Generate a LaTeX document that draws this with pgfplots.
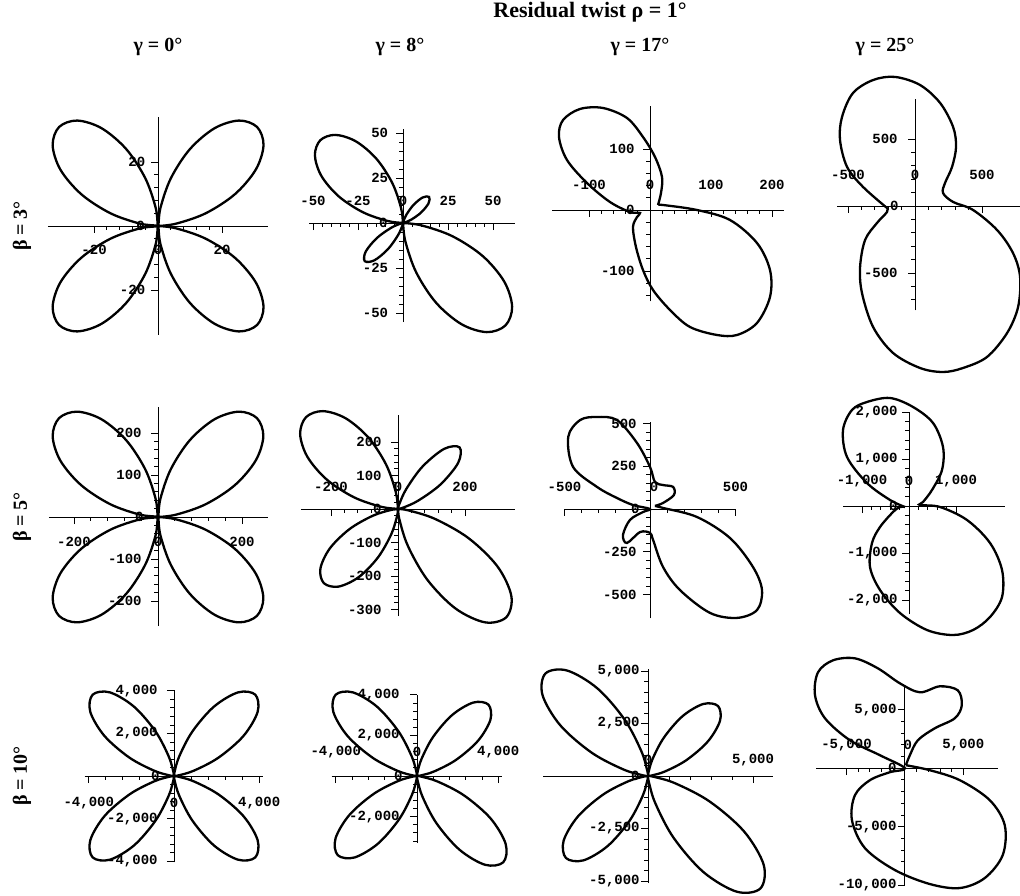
\documentclass[border=0pt]{standalone}
\usepackage{fontspec}
\setmainfont{Liberation Serif}
\setmonofont{Liberation Mono}
\usepackage{pgfplots}
\pgfplotsset{compat=1.18}
\usepgfplotslibrary{polar}

\pgfplotsset{
  panel/.style={
    anchor=south west,
    axis lines=middle,
    axis line style={-, line width=0.4pt, black},
    enlargelimits=false,
    clip=false,
    scaled ticks=false,
    tick align=outside,
    major tick length=3.5pt,
    minor tick length=1.8pt,
    tick style={black, line width=0.4pt},
    minor tick num=4,
    ticklabel style={font=\fontsize{7}{8}\selectfont\ttfamily\bfseries, inner sep=0pt},
  },
  xlab/.style={xticklabel style={anchor=center, yshift=#1}},
  ylab/.style={yticklabel style={anchor=east, xshift=#1}},
  curve/.style={black, line width=1.15pt, smooth, tension=0.55},
}
\tikzset{
  zx/.style={font=\fontsize{7}{8}\selectfont\ttfamily\bfseries, inner sep=0pt, anchor=center, yshift=#1},
  zy/.style={font=\fontsize{7}{8}\selectfont\ttfamily\bfseries, inner sep=0pt, anchor=east, xshift=#1},
}

\begin{document}
\begin{tikzpicture}
\useasboundingbox (0,0) rectangle (510pt,447.5pt);

% headings
\node[font=\fontsize{11}{13}\selectfont\bfseries] at (295pt,441.5pt) {Residual twist ρ = 1°};
\node[font=\fontsize{10}{12}\selectfont\bfseries] at (79pt,424pt) {γ = 0°};
\node[font=\fontsize{10}{12}\selectfont\bfseries] at (200pt,424pt) {γ = 8°};
\node[font=\fontsize{10}{12}\selectfont\bfseries] at (320pt,424pt) {γ = 17°};
\node[font=\fontsize{10}{12}\selectfont\bfseries] at (442.5pt,424pt) {γ = 25°};
\node[rotate=90, font=\fontsize{10}{12}\selectfont\bfseries] at (11pt,334.5pt) {β = 3°};
\node[rotate=90, font=\fontsize{10}{12}\selectfont\bfseries] at (11pt,189pt) {β = 5°};
\node[rotate=90, font=\fontsize{10}{12}\selectfont\bfseries] at (11pt,59.5pt) {β = 10°};

% ---------- beta = 3 ----------
\begin{axis}[panel, at={(24pt,280.1pt)}, x=1.6pt, y=1.6pt,
  xmin=-34.4, xmax=34.4, ymin=-34, ymax=34,
  xtick={-20,0,20}, xticklabels={-20,0,20},
  ytick={-20,0,20}, yticklabels={-20,0,20},
  xlab=-8.5pt, ylab=-2.75pt]
\addplot[curve, data cs=polar] coordinates {
(0,0)(7.5,5.76)(15,15.47)(22.5,26.01)(30,35.26)(37.5,41.53)(45,43.75)(52.5,41.53)(60,35.26)(67.5,26.01)(75,15.47)(82.5,5.76)(90,0)
(97.5,5.76)(105,15.47)(112.5,26.01)(120,35.26)(127.5,41.53)(135,43.75)(142.5,41.53)(150,35.26)(157.5,26.01)(165,15.47)(172.5,5.76)(180,0)
(187.5,5.76)(195,15.47)(202.5,26.01)(210,35.26)(217.5,41.53)(225,43.75)(232.5,41.53)(240,35.26)(247.5,26.01)(255,15.47)(262.5,5.76)(270,0)
(277.5,5.76)(285,15.47)(292.5,26.01)(300,35.26)(307.5,41.53)(315,43.75)(322.5,41.53)(330,35.26)(337.5,26.01)(345,15.47)(352.5,5.76)(360,0)};
\node[zx=-12pt] at (axis cs:0,0) {0};
\node[zy=-6.5pt] at (axis cs:0,0) {0};
\end{axis}

\begin{axis}[panel, at={(154.7pt,286.5pt)}, x=0.9pt, y=0.9pt,
  xmin=-52, xmax=62, ymin=-55, ymax=52,
  xtick={-50,-25,0,25,50}, xticklabels={-50,-25,0,25,50},
  ytick={-50,-25,0,25,50}, yticklabels={-50,-25,0,25,50},
  xlab=14.5pt, ylab=-3.75pt]
\addplot[curve, data cs=polar] coordinates {
(0,0)(7.5,0.09)(15,1.28)(22.5,5.13)(30,11.53)(37.5,17.85)(45,20.5)(52.5,17.85)(60,11.53)(67.5,5.13)(75,1.28)(82.5,0.09)(90,0)
(97.5,8.56)(105,22.98)(112.5,38.65)(120,52.38)(127.5,61.70)(135,65)(142.5,61.70)(150,52.38)(157.5,38.65)(165,22.98)(172.5,8.56)(180,0)
(187.5,0.14)(195,1.88)(202.5,7.5)(210,16.88)(217.5,26.12)(225,30)(232.5,26.12)(240,16.88)(247.5,7.5)(255,1.88)(262.5,0.14)(270,0)
(277.5,10.60)(285,28.46)(292.5,47.87)(300,64.87)(307.5,76.42)(315,80.5)(322.5,76.42)(330,64.87)(337.5,47.87)(345,28.46)(352.5,10.60)(360,0)};
\node[zx=11pt] at (axis cs:0,0) {0};
\node[zy=-7.5pt] at (axis cs:0,0) {0};
\end{axis}

\begin{axis}[panel, at={(276.2pt,296.75pt)}, x=0.305pt, y=0.305pt,
  xmin=-160, xmax=220, ymin=-150, ymax=170,
  xtick={-100,0,100,200}, xticklabels={-100,0,100,200},
  ytick={-200,-100,0,100}, yticklabels={-200,-100,0,100},
  xlab=16pt, ylab=-4pt]
\addplot[curve] coordinates {
(13.1,8.2)(21.3,8.2)(77,0)(131.1,-16.4)(175.4,-54.1)(196.7,-98.4)(196.7,-142.6)(175.4,-185.2)(142.6,-204.9)(109.8,-204.9)(65.6,-191.8)(32.8,-163.9)(4.9,-131.1)(-11.5,-98.4)(-23,-60.7)(-27.9,-27.9)(-21.3,-11.5)(-16.4,-4.9)(-32.8,-3.3)(-65.6,13.1)(-103.3,44.3)(-136.1,82)(-149.2,119.7)(-142.6,147.5)(-114.8,165.6)(-77,167.2)(-37.7,150.8)(-11.5,119.7)(8.2,86.9)(19.7,54.1)(18,27.9)(13.1,8.2)};
\node[zx=12.5pt] at (axis cs:0,0) {0};
\node[zy=-7.5pt] at (axis cs:0,0) {0};
\end{axis}

\begin{axis}[panel, at={(418.65pt,292.25pt)}, x=0.067pt, y=0.067pt,
  xmin=-580, xmax=780, ymin=-780, ymax=800,
  xtick={-500,0,500}, xticklabels={-500,0,500},
  ytick={-1000,-500,0,500}, yticklabels={{-1,000},-500,0,500},
  xlab=19pt, ylab=-5pt]
\addplot[curve] coordinates {
(-209,-15)(-388,142)(-507,291)(-560,493)(-545,664)(-463,843)(-313,940)(-149,963)(37,903)(187,769)(284,590)(306,440)(276,291)(224,172)(209,97)(284,30)(433,-30)(612,-179)(731,-351)(784,-530)(769,-754)(687,-948)(537,-1127)(358,-1209)(209,-1239)(37,-1209)(-164,-1097)(-313,-903)(-396,-649)(-410,-455)(-373,-254)(-284,-127)(-209,-45)(-209,-15)};
\node[zx=15.5pt] at (axis cs:0,0) {0};
\node[zy=-8pt] at (axis cs:0,0) {0};
\end{axis}

% ---------- beta = 5 ----------
\begin{axis}[panel, at={(24.4pt,134.4pt)}, x=0.21pt, y=0.21pt,
  xmin=-260, xmax=262, ymin=-260, ymax=262,
  xtick={-200,0,200}, xticklabels={-200,0,200},
  ytick={-200,-100,0,100,200}, yticklabels={-200,-100,0,100,200},
  xlab=-9pt, ylab=-4.5pt]
\addplot[curve, data cs=polar] coordinates {
(0,0)(7.5,43.9)(15,117.7)(22.5,198)(30,268.4)(37.5,316.1)(45,333)(52.5,316.1)(60,268.4)(67.5,198)(75,117.7)(82.5,43.9)(90,0)
(97.5,43.9)(105,117.7)(112.5,198)(120,268.4)(127.5,316.1)(135,333)(142.5,316.1)(150,268.4)(157.5,198)(165,117.7)(172.5,43.9)(180,0)
(187.5,43.9)(195,117.7)(202.5,198)(210,268.4)(217.5,316.1)(225,333)(232.5,316.1)(240,268.4)(247.5,198)(255,117.7)(262.5,43.9)(270,0)
(277.5,43.9)(285,117.7)(292.5,198)(300,268.4)(307.5,316.1)(315,333)(322.5,316.1)(330,268.4)(337.5,198)(345,117.7)(352.5,43.9)(360,0)};
\node[zx=-12.5pt] at (axis cs:0,0) {0};
\node[zy=-7pt] at (axis cs:0,0) {0};
\end{axis}

\begin{axis}[panel, at={(150.43pt,139.4pt)}, x=0.1675pt, y=0.1675pt,
  xmin=-290, xmax=350, ymin=-320, ymax=280,
  xtick={-200,0,200}, xticklabels={-200,0,200},
  ytick={-300,-200,-100,0,100,200}, yticklabels={-300,-200,-100,0,100,200},
  xlab=14.5pt, ylab=-4.5pt]
\addplot[curve, data cs=polar] coordinates {
(0,0)(7.5,1.17)(15,16.25)(22.5,65)(30,146.25)(37.5,226.3)(45,260)(52.5,226.3)(60,146.25)(67.5,65)(75,16.25)(82.5,1.17)(90,0)
(97.5,51.1)(105,137.2)(112.5,230.7)(120,312.7)(127.5,368.3)(135,388)(142.5,368.3)(150,312.7)(157.5,230.7)(165,137.2)(172.5,51.1)(180,0)
(187.5,21)(195,78.25)(202.5,156.5)(210,234.75)(217.5,292)(225,313)(232.5,292)(240,234.75)(247.5,156.5)(255,78.25)(262.5,21)(270,0)
(277.5,30.6)(285,114.25)(292.5,228.5)(300,342.75)(307.5,426.4)(315,457)(322.5,426.4)(330,342.75)(337.5,228.5)(345,114.25)(352.5,30.6)(360,0)};
\node[zx=11pt] at (axis cs:0,0) {0};
\node[zy=-8pt] at (axis cs:0,0) {0};
\end{axis}

\begin{axis}[panel, at={(282.25pt,138.3pt)}, x=0.0855pt, y=0.0855pt,
  xmin=-500, xmax=500, ymin=-640, ymax=510,
  xtick={-500,0,500}, xticklabels={-500,0,500},
  ytick={-500,-250,0,250,500}, yticklabels={-500,-250,0,250,500},
  xlab=14.5pt, ylab=-3pt]
\addplot[curve] coordinates {
(29,18)(76,35)(140,82)(135,129)(76,140)(29,158)(0,246)(-76,386)(-193,520)(-310,538)(-409,520)(-478,423)(-450,246)(-310,129)(-193,64)(-99,23)(0,0)(-41,-18)(-117,-64)(-158,-152)(-135,-199)(-58,-135)(0,-140)(18,-181)(76,-339)(175,-474)(351,-608)(509,-637)(626,-591)(655,-474)(602,-339)(468,-170)(275,-47)(76,6)(29,18)};
\node[zx=11pt, xshift=2pt] at (axis cs:0,0) {0};
\node[zy=-5pt] at (axis cs:0,0) {0};
\end{axis}

\begin{axis}[panel, at={(421.6pt,140.45pt)}, x=0.0235pt, y=0.0235pt,
  xmin=-1400, xmax=2050, ymin=-2300, ymax=2000,
  xtick={-1000,0,1000}, xticklabels={{-1,000},0,{1,000}},
  ytick={-2000,-1000,0,1000,2000}, yticklabels={{-2,000},{-1,000},0,{1,000},{2,000}},
  xlab=16pt, ylab=-2pt]
\addplot[curve] coordinates {
(-85,-21)(-404,128)(-894,489)(-1319,1043)(-1404,1617)(-1213,2043)(-894,2213)(-404,2298)(85,2107)(511,1766)(723,1255)(702,766)(489,340)(298,85)(234,21)(660,-21)(1234,-298)(1724,-787)(1979,-1362)(1979,-1936)(1724,-2362)(1362,-2639)(936,-2745)(383,-2639)(-192,-2277)(-617,-1787)(-830,-1298)(-787,-787)(-617,-447)(-340,-128)(-192,-21)(-85,-21)};
\node[zx=12.5pt] at (axis cs:0,0) {0};
\node[zy=-5.5pt] at (axis cs:0,0) {0};
\end{axis}

% ---------- beta = 10 ----------
\begin{axis}[panel, at={(42.25pt,16.35pt)}, x=0.01065pt, y=0.01065pt,
  xmin=-4200, xmax=4200, ymin=-4050, ymax=4050,
  xtick={-4000,0,4000}, xticklabels={{-4,000},0,{4,000}},
  ytick={-4000,-2000,0,2000,4000}, yticklabels={{-4,000},{-2,000},0,{2,000},{4,000}},
  xlab=-10pt, ylab=-4.5pt]
\addplot[curve, data cs=polar] coordinates {
(0,0)(7.5,184)(15,955)(22.5,2270)(30,3769)(37.5,4952)(45,5400)(52.5,4952)(60,3769)(67.5,2270)(75,955)(82.5,184)(90,0)
(97.5,184)(105,955)(112.5,2270)(120,3769)(127.5,4952)(135,5400)(142.5,4952)(150,3769)(157.5,2270)(165,955)(172.5,184)(180,0)
(187.5,184)(195,955)(202.5,2270)(210,3769)(217.5,4952)(225,5400)(232.5,4952)(240,3769)(247.5,2270)(255,955)(262.5,184)(270,0)
(277.5,184)(285,955)(292.5,2270)(300,3769)(307.5,4952)(315,5400)(322.5,4952)(330,3769)(337.5,2270)(345,955)(352.5,184)(360,0)};
\node[zx=-13.5pt] at (axis cs:0,0) {0};
\node[zy=-7pt] at (axis cs:0,0) {0};
\end{axis}

\begin{axis}[panel, at={(165.85pt,26pt)}, x=0.01015pt, y=0.01015pt,
  xmin=-4200, xmax=4200, ymin=-3300, ymax=4000,
  xtick={-4000,0,4000}, xticklabels={{-4,000},0,{4,000}},
  ytick={-4000,-2000,0,2000,4000}, yticklabels={{-4,000},{-2,000},0,{2,000},{4,000}},
  xlab=15.5pt, ylab=-5pt]
\addplot[curve, data cs=polar] coordinates {
(0,0)(7.5,170)(15,880)(22.5,2091)(30,3472)(37.5,4562)(45,4975)(52.5,4562)(60,3472)(67.5,2091)(75,880)(82.5,170)(90,0)
(97.5,193)(105,1002)(112.5,2382)(120,3954)(127.5,5195)(135,5665)(142.5,5195)(150,3954)(157.5,2382)(165,1002)(172.5,193)(180,0)
(187.5,188)(195,975)(202.5,2319)(210,3850)(217.5,5059)(225,5517)(232.5,5059)(240,3850)(247.5,2319)(255,975)(262.5,188)(270,0)
(277.5,205)(285,1063)(292.5,2527)(300,4194)(307.5,5511)(315,6010)(322.5,5511)(330,4194)(337.5,2527)(345,1063)(352.5,205)(360,0)};
\node[zx=12pt] at (axis cs:0,0) {0};
\node[zy=-7pt] at (axis cs:0,0) {0};
\end{axis}

\begin{axis}[panel, at={(271.5pt,5.95pt)}, x=0.0105pt, y=0.0105pt,
  xmin=-5000, xmax=5950, ymin=-5100, ymax=5100,
  xtick={0,5000}, xticklabels={0,{5,000}},
  ytick={-5000,-2500,0,2500,5000}, yticklabels={{-5,000},{-2,500},0,{2,500},{5,000}},
  xlab=11.5pt, ylab=-0.5pt]
\addplot[curve, data cs=polar] coordinates {
(0,0)(7.5,161)(15,833)(22.5,1982)(30,3290)(37.5,4323)(45,4714)(52.5,4323)(60,3290)(67.5,1982)(75,833)(82.5,161)(90,0)
(97.5,235)(105,1221)(112.5,2903)(120,4819)(127.5,6332)(135,6905)(142.5,6332)(150,4819)(157.5,2903)(165,1221)(172.5,235)(180,0)
(187.5,188)(195,977)(202.5,2322)(210,3855)(217.5,5066)(225,5524)(232.5,5066)(240,3855)(247.5,2322)(255,977)(262.5,188)(270,0)
(277.5,258)(285,1339)(292.5,3183)(300,5284)(307.5,6943)(315,7571)(322.5,6943)(330,5284)(337.5,3183)(345,1339)(352.5,258)(360,0)};
\node[zx=8pt] at (axis cs:0,0) {0};
\node[zy=-4pt] at (axis cs:0,0) {0};
\end{axis}

\begin{axis}[panel, at={(408.05pt,5pt)}, x=0.00585pt, y=0.00585pt,
  xmin=-7600, xmax=8000, ymin=-10000, ymax=7000,
  xtick={-5000,0,5000}, xticklabels={{-5,000},0,{5,000}},
  ytick={-10000,-5000,0,5000}, yticklabels={{-10,000},{-5,000},0,{5,000}},
  xlab=15pt, ylab=-0.5pt]
\addplot[curve] coordinates {
(85,256)(428,1112)(1112,2394)(2565,3420)(4275,4275)(4874,5387)(4532,6669)(2993,7011)(1283,6498)(-428,7268)(-2309,8550)(-4275,9405)(-6156,9234)(-7439,8208)(-7695,6242)(-6840,4275)(-4703,2394)(-2138,1112)(0,0)(-1283,-342)(-2993,-1026)(-4275,-2309)(-4532,-4446)(-3420,-6840)(-855,-8721)(2138,-9918)(4703,-10260)(6840,-9405)(8379,-7439)(8550,-4874)(7268,-2736)(4703,-1026)(2138,-171)(85,256)};
\node[zx=11.5pt, xshift=1.5pt] at (axis cs:0,0) {0};
\node[zy=-4pt] at (axis cs:0,0) {0};
\end{axis}

\end{tikzpicture}
\end{document}
